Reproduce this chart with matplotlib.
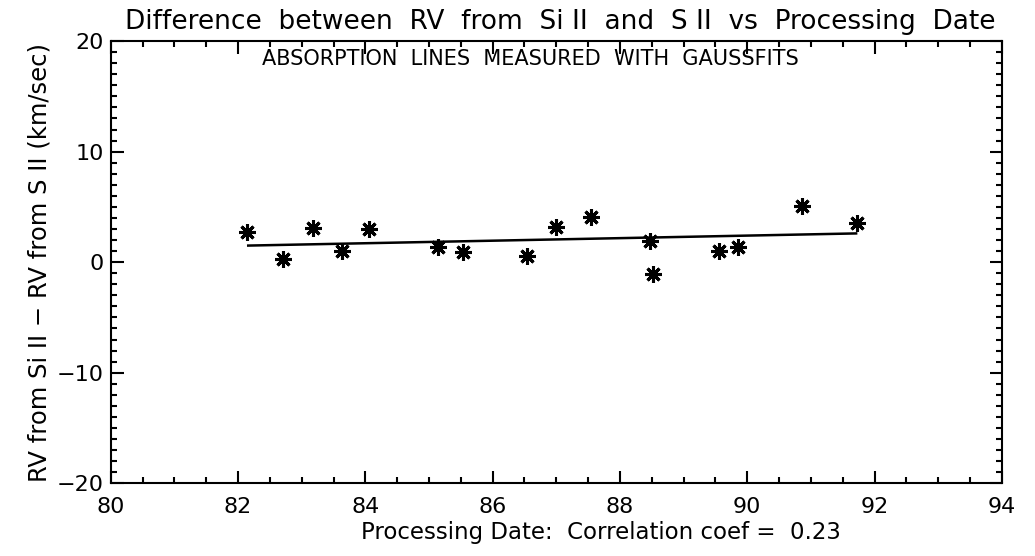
# RV difference (Si II - S II) vs processing date

import numpy as np
import matplotlib
matplotlib.use("Agg")
import matplotlib.pyplot as plt
from matplotlib.ticker import MultipleLocator

# Data
date = [82.14, 82.70, 83.18, 83.64, 84.05, 85.14, 85.54, 86.54, 86.99, 87.54,
        88.47, 88.52, 89.55, 89.86, 90.86, 91.73]
rv_diff = [2.7, 0.3, 3.1, 1.0, 3.0, 1.4, 0.9, 0.6, 3.2, 4.1,
           1.9, -1.1, 1.0, 1.4, 5.1, 3.5]
# Linear fit shown on the plot
fit_x = [82.16, 91.71]
fit_y = [1.5, 2.6]

plt.rcParams['font.family'] = ['DejaVu Sans']

fig = plt.figure(figsize=(10.35, 5.56), dpi=100)
ax = fig.add_axes([0.107, 0.131, 0.861, 0.795])

ax.plot(date, rv_diff, linestyle="none", marker=(8, 2, 0), markersize=12,
        markeredgewidth=2.2, color="black")
ax.plot(fit_x, fit_y, color="black", linewidth=1.8)

ax.set_xlim(80, 94)
ax.set_ylim(-20, 20)
ax.xaxis.set_major_locator(MultipleLocator(2))
ax.xaxis.set_minor_locator(MultipleLocator(0.5))
ax.yaxis.set_major_locator(MultipleLocator(10))
ax.yaxis.set_minor_locator(MultipleLocator(1))
ax.tick_params(which="both", direction="in", top=True, right=True,
               labelsize=16, width=1.5)
ax.tick_params(which="major", length=9)
ax.tick_params(which="minor", length=4.5)
ax.tick_params(axis="x", which="major", pad=10)
ax.tick_params(axis="y", which="major", pad=5)
ax.set_yticks([-20, -10, 0, 10, 20])
ax.set_yticklabels(["\u221220", "\u221210", "0", "10", "20"])
for s in ax.spines.values():
    s.set_linewidth(1.5)

ax.set_title("Difference  between  RV  from  Si II  and  S II  vs  Processing  Date",
             fontsize=19, loc="center", x=0.504, pad=9)
ax.text(86.6, 18.4, "ABSORPTION  LINES  MEASURED  WITH  GAUSSFITS",
        ha="center", va="center", fontsize=15)
ax.set_xlabel("Processing Date:  Correlation coef =  0.23", fontsize=16.5,
              labelpad=3, x=0.55)
ax.set_ylabel("RV from Si II \u2212 RV from S II (km/sec)", fontsize=17.5,
              labelpad=4)

plt.savefig("out.png", dpi=100)
